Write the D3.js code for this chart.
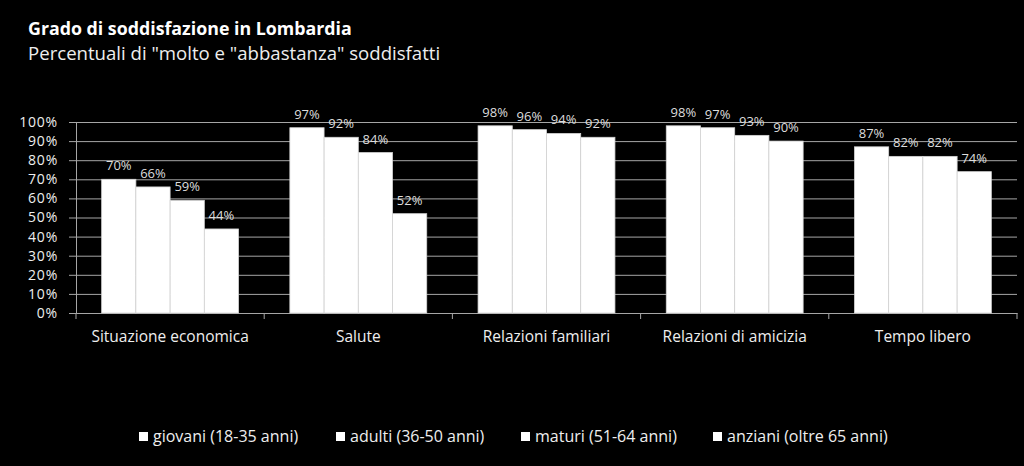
<!DOCTYPE html>
<html>
<head>
<meta charset="utf-8">
<script src="https://cdn.jsdelivr.net/npm/d3@7"></script>
<style>
  html, body { margin: 0; padding: 0; background: #000; }
  svg { display: block; font-family: "Open Sans", Lato, sans-serif; }
</style>
</head>
<body>
<div id="chart"></div>
<script>
const categories = ["Situazione economica", "Salute", "Relazioni familiari", "Relazioni di amicizia", "Tempo libero"];
const series = ["giovani (18-35 anni)", "adulti (36-50 anni)", "maturi (51-64 anni)", "anziani (oltre 65 anni)"];
const giovani = [70, 97, 98, 98, 87];
const adulti = [66, 92, 96, 97, 82];
const maturi = [59, 84, 94, 93, 82];
const anziani = [44, 52, 92, 90, 74];
const yTicks = [0, 10, 20, 30, 40, 50, 60, 70, 80, 90, 100];

const values = [giovani, adulti, maturi, anziani];

const W = 1024, H = 466;
const margin = { top: 122, right: 7, bottom: 153, left: 76 };
const width = W - margin.left - margin.right;
const height = H - margin.top - margin.bottom;

const svg = d3.select("#chart")
  .append("svg")
  .attr("width", W)
  .attr("height", H);

svg.append("rect").attr("width", W).attr("height", H).attr("fill", "#000");

// titles
svg.append("text")
  .attr("x", 28).attr("y", 35)
  .attr("fill", "#fff")
  .attr("font-size", 17.8)
  .attr("font-weight", "bold")
  .text("Grado di soddisfazione in Lombardia");

svg.append("text")
  .attr("x", 28).attr("y", 60)
  .attr("fill", "#eee")
  .attr("font-size", 18.6)
  .text("Percentuali di \"molto e \"abbastanza\" soddisfatti");

const g = svg.append("g")
  .attr("transform", `translate(${margin.left}, ${margin.top})`);

const x = d3.scaleBand().domain(categories).range([0, width]);
const xs = d3.scaleBand().domain(series).range([0, x.bandwidth()]).paddingOuter(0.75);
const y = d3.scaleLinear().domain([0, 100]).range([height, 0]);

// gridlines
g.append("g")
  .call(d3.axisLeft(y).tickValues(yTicks).tickSize(-width).tickFormat(""))
  .call(a => a.select(".domain").remove())
  .call(a => a.selectAll("line").attr("stroke", "#a6a6a6"));

// y axis
g.append("g")
  .call(d3.axisLeft(y).tickValues(yTicks).tickSizeInner(7).tickSizeOuter(0).tickPadding(11)
    .tickFormat(d => d + "%"))
  .attr("font-family", null)
  .attr("font-size", 14)
  .call(a => a.select(".domain").attr("stroke", "#a6a6a6"))
  .call(a => a.selectAll("line").attr("stroke", "#a6a6a6"))
  .call(a => a.selectAll("text").attr("fill", "#eee").attr("letter-spacing", 0.8));

// x axis
const xAxis = g.append("g")
  .attr("transform", `translate(0, ${height})`)
  .call(d3.axisBottom(x).tickSize(0).tickPadding(18))
  .attr("font-family", null)
  .attr("font-size", 15.5)
  .call(a => a.select(".domain").attr("stroke", "#a6a6a6"))
  .call(a => a.selectAll("text").attr("fill", "#eee"));

const bounds = categories.map(c => x(c)).concat([x.range()[1]]);
xAxis.selectAll(".bound")
  .data(bounds)
  .join("line")
  .attr("class", "bound")
  .attr("x1", d => d).attr("x2", d => d)
  .attr("y1", 0).attr("y2", 6)
  .attr("stroke", "#a6a6a6");

// bars
const groups = g.selectAll(".cat")
  .data(categories)
  .join("g")
  .attr("class", "cat")
  .attr("transform", c => `translate(${x(c)}, 0)`);

const cells = groups.selectAll(".bar")
  .data((c, ci) => series.map((s, si) => ({ s, v: values[si][ci] })))
  .join("g")
  .attr("class", "bar");

cells.append("rect")
  .attr("x", d => xs(d.s))
  .attr("y", d => y(d.v))
  .attr("width", xs.bandwidth())
  .attr("height", d => height - y(d.v))
  .attr("fill", "#fff")
  .attr("stroke", "#d4d4d4")
  .attr("stroke-width", 0.8);

cells.append("text")
  .attr("x", d => xs(d.s) + xs.bandwidth() / 2)
  .attr("y", d => y(d.v) - 9)
  .attr("text-anchor", "middle")
  .attr("fill", "#ddd")
  .attr("font-size", 13)
  .text(d => d.v + "%");

// legend
const legendX = [139, 336, 521, 713];
const legend = svg.append("g")
  .selectAll("g")
  .data(series)
  .join("g")
  .attr("transform", (d, i) => `translate(${legendX[i]}, 436)`);

legend.append("rect")
  .attr("x", 0).attr("y", -4)
  .attr("width", 9).attr("height", 9)
  .attr("fill", "#fff");

legend.append("text")
  .attr("x", 14).attr("y", 5.5)
  .attr("fill", "#eee")
  .attr("font-size", 16)
  .text(d => d);
</script>
</body>
</html>
